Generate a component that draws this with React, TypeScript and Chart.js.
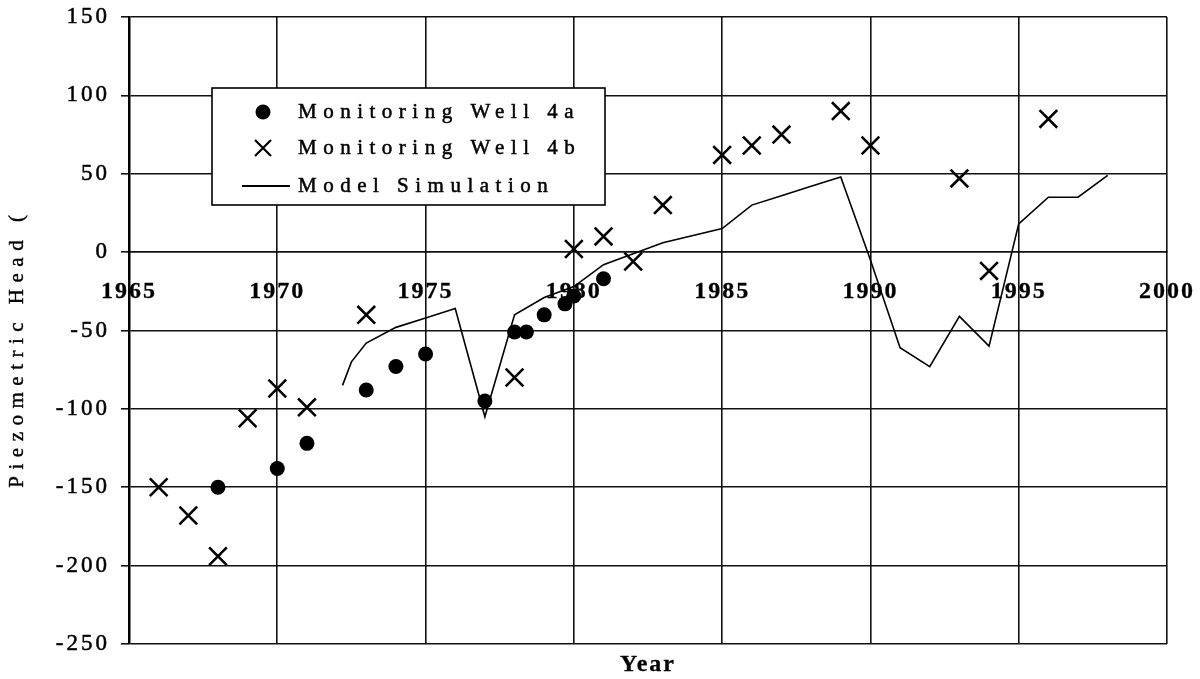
import React, { useEffect, useRef } from 'react';
import { Chart, registerables } from 'chart.js';

Chart.register(...registerables);

// ---- Data ----
const well4aYears = [1968, 1970, 1971, 1973, 1974, 1975, 1977, 1978, 1978.4, 1979, 1979.7, 1980, 1981];
const well4aHead = [-150, -138, -122, -88, -73, -65, -95, -51, -51, -40, -33, -28, -17];

const well4bYears = [1966, 1967, 1968, 1969, 1970, 1971, 1973, 1978, 1980, 1981, 1982, 1983, 1985, 1986, 1987, 1989, 1990, 1993, 1994, 1996];
const well4bHead = [-150, -168, -194, -106, -87, -99, -40, -80, 2, 10, -6, 30, 62, 68, 75, 90, 68, 47, -12, 85];

const modelYears = [1972.2, 1972.5, 1973, 1974, 1975, 1976, 1977, 1978, 1979, 1980, 1981, 1982, 1983, 1985, 1986, 1987, 1988, 1989, 1990, 1991, 1992, 1993, 1994, 1995, 1996, 1997, 1998];
const modelHead = [-85, -70, -58, -48, -42, -36, -105, -40, -29, -22, -8, -1, 6, 15, 30, 36, 42, 48, -5, -61, -73, -41, -60, 18, 35, 35, 49];

const seriesLabels = ['Monitoring Well 4a', 'Monitoring Well 4b', 'Model Simulation'];
const xTickMin = 1965;
const xTickMax = 2000;
const yTickMin = -250;
const yTickMax = 150;
const xAxisTitle = 'Year';
const yAxisTitle = 'Piezometric Head (';

const SERIF = '"Liberation Serif", "Times New Roman", serif';

const toPoints = (xs: number[], ys: number[]) => xs.map((x, i) => ({ x, y: ys[i] }));

// draw text with a thin outline so it looks as heavy as the scanned original
function heavyText(ctx: any, text: string, x: number, y: number, w: number) {
  ctx.fillText(text, x, y);
  if (w > 0) {
    ctx.save();
    ctx.lineWidth = w;
    ctx.strokeStyle = ctx.fillStyle;
    ctx.lineJoin = 'round';
    ctx.strokeText(text, x, y);
    ctx.restore();
  }
}

export default function App() {
  const ref = useRef<HTMLCanvasElement>(null);

  useEffect(() => {
    const canvas = ref.current;
    if (!canvas) return;

    const spacingPlugin = {
      id: 'letterSpacingPatch',
      afterLayout(chart: any) {
        const wrap = (obj: any, method: string, sp: string, stroke: number) => {
          if (!obj || obj['__p_' + method]) return;
          const orig = obj[method];
          obj[method] = function (...args: any[]) {
            const c: any = chart.ctx;
            const prev = c.letterSpacing;
            const protoFill = Object.getPrototypeOf(c).fillText;
            c.letterSpacing = sp;
            c.fillText = function (t: string, x: number, y: number) {
              protoFill.call(this, t, x, y);
              this.save();
              this.lineWidth = stroke;
              this.strokeStyle = this.fillStyle;
              this.lineJoin = 'round';
              this.strokeText(t, x, y);
              this.restore();
            };
            try {
              return orig.apply(this, args);
            } finally {
              delete c.fillText;
              c.letterSpacing = prev || '0px';
            }
          };
          obj['__p_' + method] = true;
        };
        wrap(chart.scales.y, 'drawLabels', '3px', 0.5);
        wrap(chart.scales.y, 'drawTitle', '6.5px', 0.4);
        wrap(chart.scales.x, 'drawLabels', '2px', 0.3);
        wrap(chart.scales.xTitle, 'drawTitle', '2px', 0.3);
      },
    };

    const legendPlugin = {
      id: 'boxLegend',
      afterDraw(chart: any) {
        const ctx: any = chart.ctx;
        const bx = 212, by = 88, bw = 393, bh = 117;
        ctx.save();
        ctx.fillStyle = '#fff';
        ctx.fillRect(bx, by, bw, bh);
        ctx.strokeStyle = '#000';
        ctx.lineWidth = 1.6;
        ctx.strokeRect(bx, by, bw, bh);
        const rows = [112, 148, 186];
        const sx = 263;
        ctx.fillStyle = '#000';
        ctx.beginPath();
        ctx.arc(sx, rows[0], 7.5, 0, Math.PI * 2);
        ctx.fill();
        ctx.lineWidth = 2.2;
        ctx.beginPath();
        ctx.moveTo(sx - 8, rows[1] - 8);
        ctx.lineTo(sx + 8, rows[1] + 8);
        ctx.moveTo(sx + 8, rows[1] - 8);
        ctx.lineTo(sx - 8, rows[1] + 8);
        ctx.stroke();
        ctx.lineWidth = 1.8;
        ctx.beginPath();
        ctx.moveTo(242, rows[2]);
        ctx.lineTo(290, rows[2]);
        ctx.stroke();
        ctx.letterSpacing = '6.5px';
        ctx.font = `21px ${SERIF}`;
        ctx.textBaseline = 'middle';
        ctx.textAlign = 'left';
        chart.data.datasets.forEach((ds: any, i: number) => {
          heavyText(ctx, ds.label, 298, rows[i], 0.5);
        });
        ctx.restore();
      },
    };

    const chart = new Chart(canvas, {
      type: 'scatter',
      data: {
        datasets: [
          {
            label: seriesLabels[0],
            data: toPoints(well4aYears, well4aHead),
            xAxisID: 'x',
            yAxisID: 'y',
            pointStyle: 'circle',
            pointRadius: 7.5,
            pointBackgroundColor: '#000',
            pointBorderColor: '#000',
            pointBorderWidth: 0,
            showLine: false,
          },
          {
            label: seriesLabels[1],
            data: toPoints(well4bYears, well4bHead),
            xAxisID: 'x',
            yAxisID: 'y',
            pointStyle: 'crossRot',
            pointRadius: 12.5,
            pointBorderColor: '#000',
            pointBorderWidth: 2.6,
            showLine: false,
          },
          {
            label: seriesLabels[2],
            data: toPoints(modelYears, modelHead),
            xAxisID: 'x',
            yAxisID: 'y',
            showLine: true,
            pointRadius: 0,
            borderColor: '#000',
            borderWidth: 1.6,
            tension: 0,
          },
        ],
      },
      options: {
        responsive: true,
        maintainAspectRatio: false,
        animation: false,
        layout: { padding: { left: 0, right: 33, top: 17, bottom: 0 } },
        plugins: {
          legend: { display: false },
          tooltip: { enabled: false },
        },
        scales: {
          x: {
            type: 'linear',
            position: { y: 0 } as any,
            min: xTickMin,
            max: xTickMax,
            grid: { color: '#111', lineWidth: 1.6, drawTicks: false },
            border: { display: true, color: '#111', width: 1.6 },
            ticks: {
              stepSize: 5,
              padding: 25,
              color: '#000',
              font: { family: SERIF, size: 24, weight: 'bold' },
              maxRotation: 0,
              callback: (v: any) => String(v),
            },
            afterFit: (s: any) => {
              s.paddingLeft = 0;
              s.paddingRight = 0;
            },
          } as any,
          xTitle: {
            type: 'linear',
            axis: 'x',
            position: 'bottom',
            min: xTickMin,
            max: xTickMax,
            grid: { display: false },
            border: { display: false },
            ticks: { display: false },
            title: {
              display: true,
              text: xAxisTitle,
              color: '#000',
              font: { family: SERIF, size: 24, weight: 'bold' },
              padding: { top: 0, bottom: 0 },
            },
            afterFit: (s: any) => {
              s.height = 35;
              s.paddingLeft = 0;
              s.paddingRight = 0;
            },
          } as any,
          y: {
            type: 'linear',
            position: 'left',
            min: yTickMin,
            max: yTickMax,
            grid: { color: '#111', lineWidth: 1.6, drawTicks: true, tickLength: 8 },
            border: { display: true, color: '#000', width: 2.5 },
            ticks: {
              stepSize: 50,
              padding: 11,
              color: '#000',
              font: { family: SERIF, size: 23 },
              callback: (v: any) => String(v),
            },
            title: {
              display: true,
              text: yAxisTitle + '   ',
              color: '#000',
              font: { family: SERIF, size: 21 },
              padding: { top: 5, bottom: 0 },
            },
            afterFit: (s: any) => {
              s.width = 129;
              s.paddingTop = 0;
              s.paddingBottom = 0;
            },
          } as any,
        },
      },
      plugins: [spacingPlugin, legendPlugin],
    } as any);

    return () => chart.destroy();
  }, []);

  return (
    <div style={{ position: 'fixed', left: 0, top: 0, width: 1200, height: 679, background: '#fff' }}>
      <canvas ref={ref} />
    </div>
  );
}
